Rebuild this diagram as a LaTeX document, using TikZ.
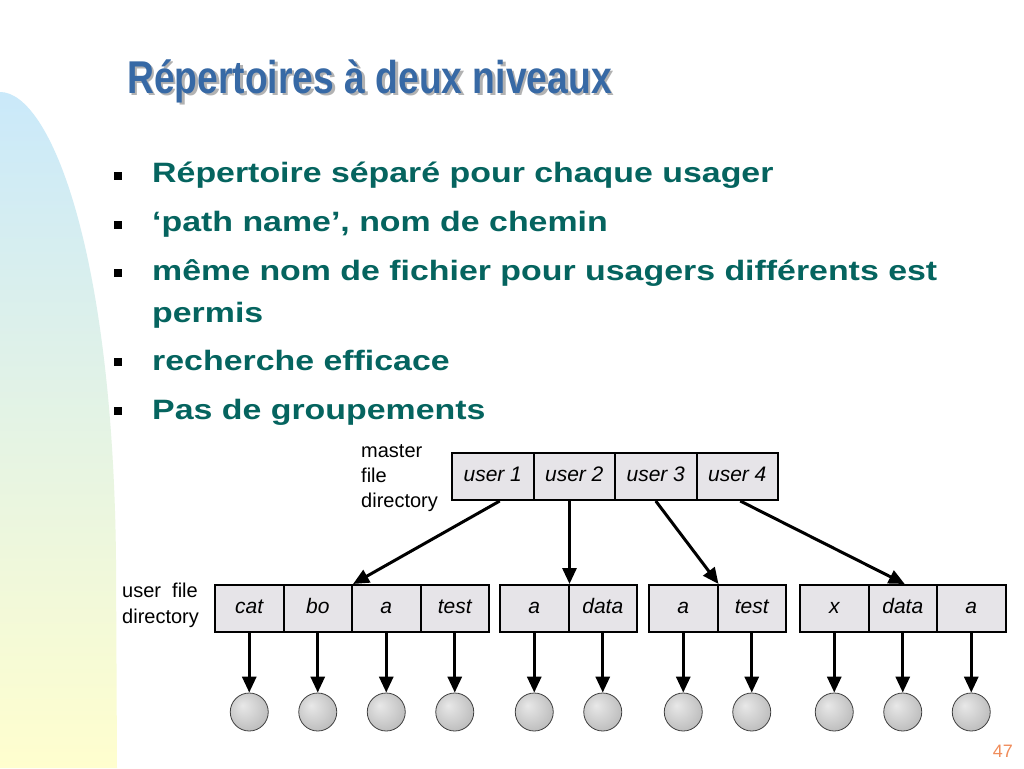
\documentclass[tikz,border=0pt]{standalone}
\usepackage{fontspec}
\setmainfont{Liberation Sans}
\usetikzlibrary{arrows.meta}
\definecolor{titleblue}{RGB}{55,105,165}
\definecolor{bullettext}{RGB}{5,100,95}
\definecolor{cellfill}{RGB}{230,228,232}
\definecolor{bgblue}{RGB}{202,233,250}
\definecolor{bgyellow}{RGB}{255,254,206}
\definecolor{pagenum}{RGB}{240,140,90}
\pgfdeclareradialshading{myball}{\pgfpoint{-9bp}{9bp}}{color(0bp)=(gray!18); color(18bp)=(gray!38); color(38bp)=(gray!62); color(50bp)=(gray!80)}
\newcommand{\titletext}{\scalebox{0.81}[1]{Répertoires à deux niveaux}}
\begin{document}
\begin{tikzpicture}[x=1pt,y=-1pt,
  cell/.style={draw,line width=2pt,fill=cellfill,minimum width=68.5pt,minimum height=47pt,inner sep=0pt,text height=14.5pt,text depth=4.5pt,font=\fontsize{21}{24}\selectfont\itshape},
  mcell/.style={cell,minimum width=81.5pt},
  ball/.style={circle,minimum size=38pt,inner sep=0pt,shading=myball,draw=black!75,line width=0.8pt},
  arr/.style={line width=3pt,-{Triangle[length=16pt,width=14pt]}},
  bulletsq/.style={fill=black,minimum size=8pt,inner sep=0pt},
  btext/.style={anchor=base west,inner sep=0pt,text=bullettext,font=\fontsize{28}{34}\selectfont\bfseries},
  lbl/.style={anchor=west,align=left,inner sep=0pt}]
\useasboundingbox (0,0) rectangle (1024,768);
\fill[white] (0,0) rectangle (1024,768);
% background band
\shade[top color=bgblue,bottom color=bgyellow]
  (0,92) .. controls (50,92) and (113,250) .. (116,560) -- (117,768) -- (0,768) -- cycle;
% title with shadow
\node[anchor=base west,inner sep=0pt,font=\fontsize{46}{50}\selectfont\bfseries] (title) at (127,93)
  {\rlap{\kern2.5pt\raisebox{-2.5pt}{\color{gray!60}\titletext}}\textcolor{titleblue}{\titletext}};
% bullets
\node[bulletsq] (q1) at (118,176) {};
\node[bulletsq] (q2) at (118,225) {};
\node[bulletsq] (q3) at (118,273) {};
\node[bulletsq] (q4) at (118,362) {};
\node[bulletsq] (q5) at (118,411) {};
\node[btext] (t1) at (152,182) {\scalebox{1.21}[1]{Répertoire séparé pour chaque usager}};
\node[btext] (t2) at (152,231) {\scalebox{1.21}[1]{‘path name’, nom de chemin}};
\node[btext] (t3) at (152,280) {\scalebox{1.21}[1]{même nom de fichier pour usagers différents est}};
\node[btext] (t3b) at (152,322) {\scalebox{1.21}[1]{permis}};
\node[btext] (t4) at (152,370) {\scalebox{1.21}[1]{recherche efficace}};
\node[btext] (t5) at (152,419) {\scalebox{1.21}[1]{Pas de groupements}};
% labels
\node[lbl,font=\fontsize{20}{25}\selectfont] (mfd) at (361,478) {master\\file\\directory};
\node[lbl,font=\fontsize{20}{26}\selectfont] (ufd) at (122,605) {user\ \ file\\directory};
% master file directory
\node[mcell] (m1) at (492.75,476.5) {user 1};
\node[mcell] (m2) at (574.25,476.5) {user 2};
\node[mcell] (m3) at (655.75,476.5) {user 3};
\node[mcell] (m4) at (737.25,476.5) {user 4};
% user file directories
\foreach \n/\x/\t in {g1a/249.25/cat,g1b/317.75/bo,g1c/386.25/a,g1d/454.75/test,
  g2a/534.25/a,g2b/602.75/data,g3a/683.25/a,g3b/751.75/test,
  g4a/834.25/x,g4b/902.75/data,g4c/971.25/a}{
  \node[cell] (\n) at (\x,608.5) {\t};
  \node[ball] (o\n) at (\x,712) {};
  \draw[arr] (\n.south) -- (o\n.north);
}
% master arrows
\draw[arr] ([xshift=7pt]m1.south) -- (g1b.north east);
\draw[arr] (m2.south -| g2a.north east) -- (g2a.north east);
\draw[arr] (m3.south) -- (g3a.north east);
\draw[arr] ([xshift=3pt]m4.south) -- ([xshift=2pt]g4b.north);
% page number
\node[anchor=base east,inner sep=0pt,text=pagenum,font=\fontsize{18}{20}\selectfont] (pg) at (1013,757) {47};
\end{tikzpicture}
\end{document}
